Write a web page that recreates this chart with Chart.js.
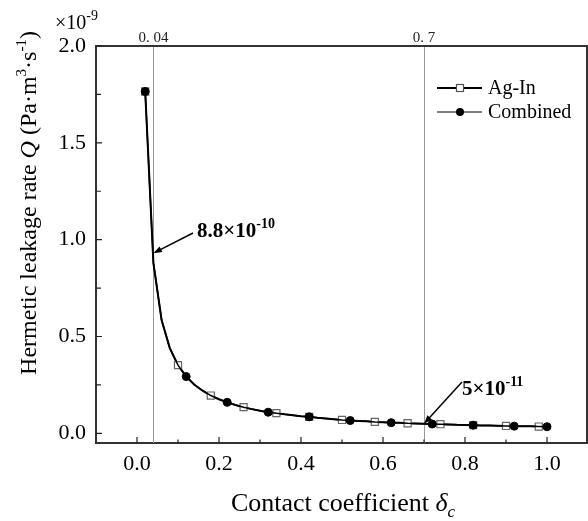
<!DOCTYPE html>
<html>
<head>
<meta charset="utf-8">
<script src="https://cdn.jsdelivr.net/npm/chart.js@4.4.1/dist/chart.umd.min.js"></script>
<style>
  body { margin: 0; background: #fff; }
  #wrap { width: 588px; height: 521px; }
</style>
</head>
<body>
<div id="wrap"><canvas id="myChart" width="588" height="521"></canvas></div>
<script>
// contact coefficient (x) and leakage rate, in units of 1e-9 Pa·m3/s
const deltaC = [0.02, 0.04, 0.06, 0.08, 0.10, 0.12, 0.14, 0.16, 0.18, 0.20,
                0.22, 0.24, 0.26, 0.28, 0.30, 0.32, 0.34, 0.36, 0.38, 0.40,
                0.42, 0.44, 0.46, 0.48, 0.50, 0.52, 0.54, 0.56, 0.58, 0.60,
                0.62, 0.64, 0.66, 0.68, 0.70, 0.72, 0.74, 0.76, 0.78, 0.80,
                0.82, 0.84, 0.86, 0.88, 0.90, 0.92, 0.94, 0.96, 0.98, 1.00];
const qAgIn = [1.765, 0.88, 0.585, 0.44, 0.352, 0.293, 0.251, 0.22, 0.195, 0.176,
               0.16, 0.146, 0.135, 0.125, 0.117, 0.109, 0.104, 0.098, 0.093, 0.088,
               0.085, 0.08, 0.077, 0.073, 0.069, 0.066, 0.064, 0.062, 0.059, 0.057,
               0.055, 0.054, 0.052, 0.051, 0.05, 0.048, 0.047, 0.046, 0.044, 0.043,
               0.042, 0.041, 0.04, 0.039, 0.038, 0.037, 0.037, 0.036, 0.035, 0.034];
const qCombined = [1.765, 0.88, 0.585, 0.44, 0.352, 0.293, 0.251, 0.22, 0.195, 0.176,
                   0.16, 0.146, 0.135, 0.125, 0.117, 0.109, 0.104, 0.098, 0.093, 0.088,
                   0.085, 0.08, 0.077, 0.073, 0.069, 0.066, 0.064, 0.062, 0.059, 0.057,
                   0.055, 0.054, 0.052, 0.051, 0.05, 0.048, 0.047, 0.046, 0.044, 0.043,
                   0.042, 0.041, 0.04, 0.039, 0.038, 0.037, 0.037, 0.036, 0.035, 0.034];

const xTicks = [0.0, 0.2, 0.4, 0.6, 0.8, 1.0];
const xMinor = [0.1, 0.3, 0.5, 0.7, 0.9];
const yTicks = [0.0, 0.5, 1.0, 1.5, 2.0];
const yMinor = [0.25, 0.75, 1.25, 1.75];

const refLines = [0.04, 0.7];
const refLabels = ['0. 04', '0. 7'];

const seriesNames = ['Ag-In', 'Combined'];

const serif = '"Liberation Serif", "DejaVu Serif", serif';
const ctx = document.getElementById('myChart');

function arrow(c, x1, y1, x2, y2) {
    const a = Math.atan2(y2 - y1, x2 - x1);
    const len = 9;
    c.beginPath();
    c.moveTo(x1, y1);
    c.lineTo(x2 - Math.cos(a) * 4, y2 - Math.sin(a) * 4);
    c.lineWidth = 1.5;
    c.strokeStyle = '#000';
    c.stroke();
    c.beginPath();
    c.moveTo(x2, y2);
    c.lineTo(x2 - len * Math.cos(a - 0.35), y2 - len * Math.sin(a - 0.35));
    c.lineTo(x2 - len * Math.cos(a + 0.35), y2 - len * Math.sin(a + 0.35));
    c.closePath();
    c.fillStyle = '#000';
    c.fill();
}

// draws text pieces one after another: [text, font, dy]
function pieces(c, x, y, parts) {
    let cx = x;
    parts.forEach(p => {
        c.font = p[1];
        c.fillText(p[0], cx, y + (p[2] || 0));
        cx += c.measureText(p[0]).width;
    });
    return cx;
}
function piecesWidth(c, parts) {
    let w = 0;
    parts.forEach(p => { c.font = p[1]; w += c.measureText(p[0]).width; });
    return w;
}

const decor = {
    id: 'decor',
    beforeDatasetsDraw(chart) {
        const c = chart.ctx;
        const xs = chart.scales.x;
        const area = chart.chartArea;
        c.save();
        // vertical reference lines
        c.strokeStyle = '#999';
        c.lineWidth = 1;
        refLines.forEach(v => {
            const px = Math.round(xs.getPixelForValue(v)) + 0.5;
            c.beginPath();
            c.moveTo(px, area.top);
            c.lineTo(px, area.bottom);
            c.stroke();
        });
        c.restore();
    },
    afterDraw(chart) {
        const c = chart.ctx;
        const xs = chart.scales.x, ys = chart.scales.y;
        const area = chart.chartArea;
        c.save();
        // top and right frame
        c.strokeStyle = '#333';
        c.lineWidth = 2;
        c.beginPath();
        c.moveTo(area.left, area.top);
        c.lineTo(area.right, area.top);
        c.moveTo(area.right - 1, area.top);
        c.lineTo(area.right - 1, area.bottom);
        c.stroke();

        // inward ticks
        c.lineWidth = 1.2;
        c.strokeStyle = '#222';
        c.beginPath();
        xTicks.forEach(v => { const p = xs.getPixelForValue(v); c.moveTo(p, area.bottom); c.lineTo(p, area.bottom - 6); });
        xMinor.forEach(v => { const p = xs.getPixelForValue(v); c.moveTo(p, area.bottom); c.lineTo(p, area.bottom - 3.5); });
        yTicks.forEach(v => { const p = ys.getPixelForValue(v); c.moveTo(area.left, p); c.lineTo(area.left + 6, p); });
        yMinor.forEach(v => { const p = ys.getPixelForValue(v); c.moveTo(area.left, p); c.lineTo(area.left + 5, p); });
        c.stroke();

        // labels over the reference lines
        c.fillStyle = '#222';
        c.font = '15px ' + serif;
        c.textAlign = 'center';
        c.textBaseline = 'alphabetic';
        refLines.forEach((v, i) => {
            c.fillText(refLabels[i], xs.getPixelForValue(v), area.top - 4);
        });

        // axis multiplier
        c.textAlign = 'left';
        c.fillStyle = '#000';
        pieces(c, 55, 29, [['\u00d710', '20px ' + serif], ['-9', '14px ' + serif, -9]]);

        // y title
        const yParts = [
            ['Hermetic leakage rate ', '24px ' + serif],
            ['Q', 'italic 24px ' + serif],
            [' (Pa\u00b7m', '24px ' + serif],
            ['3', '15px ' + serif, -10],
            ['\u00b7s', '24px ' + serif],
            ['-1', '15px ' + serif, -10],
            [')', '24px ' + serif]
        ];
        c.save();
        c.translate(36, 203);
        c.rotate(-Math.PI / 2);
        pieces(c, -piecesWidth(c, yParts) / 2, 0, yParts);
        c.restore();

        // x title
        const xParts = [
            ['Contact coefficient ', '26px ' + serif],
            ['\u03b4', 'italic 26px ' + serif],
            ['c', 'italic 17px ' + serif, 6]
        ];
        pieces(c, 343 - piecesWidth(c, xParts) / 2, 511, xParts);

        // annotations
        const p1x = xs.getPixelForValue(0.04), p1y = ys.getPixelForValue(0.93);
        arrow(c, 193, 233, p1x, p1y);
        pieces(c, 197, 237, [['8.8\u00d710', 'bold 21px ' + serif], ['-10', 'bold 14px ' + serif, -9]]);
        const p2x = xs.getPixelForValue(0.7), p2y = ys.getPixelForValue(0.05);
        arrow(c, 462, 382, p2x, p2y);
        pieces(c, 462, 395, [['5\u00d710', 'bold 21px ' + serif], ['-11', 'bold 14px ' + serif, -9]]);

        // legend
        const ds = chart.data.datasets;
        [88, 112].forEach((ly, i) => {
            const d = ds[i];
            c.strokeStyle = '#000';
            c.lineWidth = i === 0 ? 2 : 1;
            c.beginPath();
            c.moveTo(437, ly);
            c.lineTo(482, ly);
            c.stroke();
            if (i === 0) {
                c.fillStyle = '#fff';
                c.fillRect(456.5, ly - 3.5, 7, 7);
                c.strokeStyle = '#555';
                c.lineWidth = 1.2;
                c.strokeRect(456.5, ly - 3.5, 7, 7);
            } else {
                c.fillStyle = '#000';
                c.beginPath();
                c.arc(460, ly, 4, 0, Math.PI * 2);
                c.fill();
            }
            c.fillStyle = '#000';
            c.font = '20px ' + serif;
            c.textBaseline = 'middle';
            c.fillText(d.label, 488, ly + 1);
            c.textBaseline = 'alphabetic';
        });
        c.restore();
    }
};

const lastIdx = deltaC.length - 1;

const config = {
    type: 'scatter',
    data: {
        datasets: [{
            label: seriesNames[0],
            data: deltaC.map((x, i) => ({ x: x, y: qAgIn[i] })),
            showLine: true,
            borderColor: '#000',
            borderWidth: 2,
            pointStyle: 'rect',
            pointRadius: c => (c.dataIndex % 4 === 0 ? 5 : 0),
            pointBackgroundColor: '#fff',
            pointBorderColor: '#666',
            pointBorderWidth: 1.2,
            order: 1
        }, {
            label: seriesNames[1],
            data: deltaC.map((x, i) => ({ x: x, y: qCombined[i] })),
            showLine: true,
            borderColor: '#000',
            borderWidth: 1.5,
            pointStyle: 'circle',
            pointRadius: c => (c.dataIndex % 5 === 0 || c.dataIndex === lastIdx ? 4 : 0),
            pointBackgroundColor: '#000',
            pointBorderColor: '#000',
            pointBorderWidth: 1,
            order: 0
        }]
    },
    options: {
        responsive: false,
        animation: false,
        devicePixelRatio: 1,
        layout: { autoPadding: false, padding: { top: 46, right: 0, left: 0, bottom: 0 } },
        plugins: {
            legend: { display: false },
            tooltip: { enabled: false }
        },
        scales: {
            x: {
                type: 'linear',
                min: -0.1,
                max: 1.1,
                afterBuildTicks: s => { s.ticks = xTicks.map(v => ({ value: v })); },
                afterFit: s => { s.height = 78; s.paddingLeft = 0; s.paddingRight = 0; },
                grid: { display: false, drawTicks: false },
                border: { display: true, color: '#333', width: 2 },
                ticks: {
                    padding: 8,
                    color: '#000',
                    font: { family: serif, size: 22 },
                    callback: v => v.toFixed(1)
                }
            },
            y: {
                type: 'linear',
                min: -0.05,
                max: 2.0,
                afterBuildTicks: s => { s.ticks = yTicks.map(v => ({ value: v })); },
                afterFit: s => { s.width = 96; s.paddingTop = 0; s.paddingBottom = 0; },
                grid: { display: false, drawTicks: false },
                border: { display: true, color: '#333', width: 2 },
                ticks: {
                    padding: 10,
                    color: '#000',
                    font: { family: serif, size: 22 },
                    callback: v => v.toFixed(1)
                }
            }
        }
    },
    plugins: [decor]
};

let chart = new Chart(ctx, config);
</script>
</body>
</html>
